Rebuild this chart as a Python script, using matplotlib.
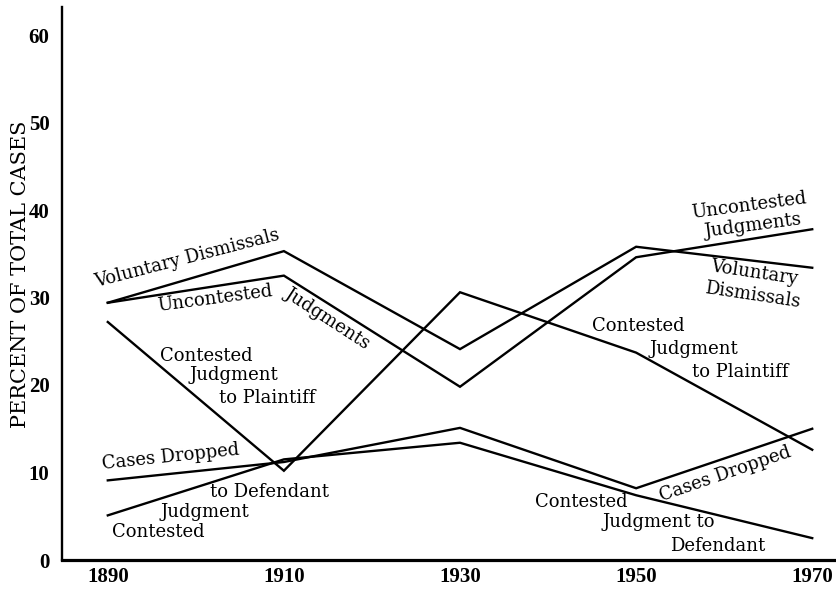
import matplotlib
matplotlib.use("Agg")
import matplotlib.pyplot as plt

# decade samples
years = [1890, 1910, 1930, 1950, 1970]

# percent of total cases
voluntary_dismissals = [29.4, 35.3, 24.1, 35.8, 33.4]
uncontested_judgments = [29.4, 32.5, 19.8, 34.6, 37.8]
contested_plaintiff = [27.2, 10.2, 30.6, 23.7, 12.6]
cases_dropped = [9.1, 11.2, 15.1, 8.2, 15.0]
contested_defendant = [5.1, 11.5, 13.4, 7.4, 2.5]

y_ticks = [0, 10, 20, 30, 40, 50, 60]
x_ticks = [1890, 1910, 1930, 1950, 1970]
y_label = "PERCENT OF TOTAL CASES"

# label placement: (text, x, y, rotation, ha)
labels = [
    ("Voluntary Dismissals", 1899.0, 34.5, 14.5, "center"),
    ("Uncontested", 1902.2, 29.9, 7.5, "center"),
    ("Judgments", 1915.0, 27.7, -33, "center"),
    ("Contested", 1895.9, 23.3, 0, "left"),
    ("Judgment", 1899.3, 21.1, 0, "left"),
    ("to Plaintiff", 1902.6, 18.5, 0, "left"),
    ("Cases Dropped", 1897.1, 11.8, 6, "center"),
    ("to Defendant", 1901.6, 7.8, 0, "left"),
    ("Judgment", 1896.0, 5.5, 0, "left"),
    ("Contested", 1890.5, 3.2, 0, "left"),
    ("Uncontested", 1962.8, 40.5, 7.4, "center"),
    ("Judgments", 1963.3, 38.2, 7.4, "center"),
    ("Voluntary", 1963.4, 32.8, -8.5, "center"),
    ("Dismissals", 1963.2, 30.3, -8.5, "center"),
    ("Contested", 1945.0, 26.7, 0, "left"),
    ("Judgment", 1951.5, 24.1, 0, "left"),
    ("to Plaintiff", 1956.4, 21.5, 0, "left"),
    ("Cases Dropped", 1960.1, 9.8, 19, "center"),
    ("Contested", 1938.5, 6.6, 0, "left"),
    ("Judgment to", 1946.2, 4.3, 0, "left"),
    ("Defendant", 1953.9, 1.6, 0, "left"),
]

fig = plt.figure(figsize=(8.36, 5.89), dpi=100)
ax = fig.add_axes([62 / 836, 29 / 589, 1 - 62 / 836, (560 - 7) / 589])

for series in [voluntary_dismissals, uncontested_judgments, contested_plaintiff,
               cases_dropped, contested_defendant]:
    ax.plot(years, series, color="black", lw=1.7, solid_joinstyle="miter")

for text, x, y, rot, ha in labels:
    ax.text(x, y, text, rotation=rot, ha=ha, va="center", rotation_mode="anchor",
            family="DejaVu Serif", fontsize=13, color="black")

ax.set_xlim(1884.8, 1972.7)
ax.set_ylim(0, 63.2)
ax.spines["top"].set_visible(False)
ax.spines["right"].set_visible(False)
ax.spines["left"].set_linewidth(1.7)
ax.spines["bottom"].set_linewidth(2.3)

ax.set_xticks(x_ticks)
ax.set_yticks(y_ticks)
ax.tick_params(length=0)
ax.tick_params(axis="y", pad=9)
ax.tick_params(axis="x", pad=5)
for lab in ax.get_xticklabels() + ax.get_yticklabels():
    lab.set_family("Liberation Serif")
    lab.set_fontweight("bold")
    lab.set_fontsize(15)

ax.set_ylabel(y_label, family="DejaVu Serif", fontsize=15)
ax.yaxis.set_label_coords(-0.041, 0.517)

fig.savefig("out.png", dpi=100)
